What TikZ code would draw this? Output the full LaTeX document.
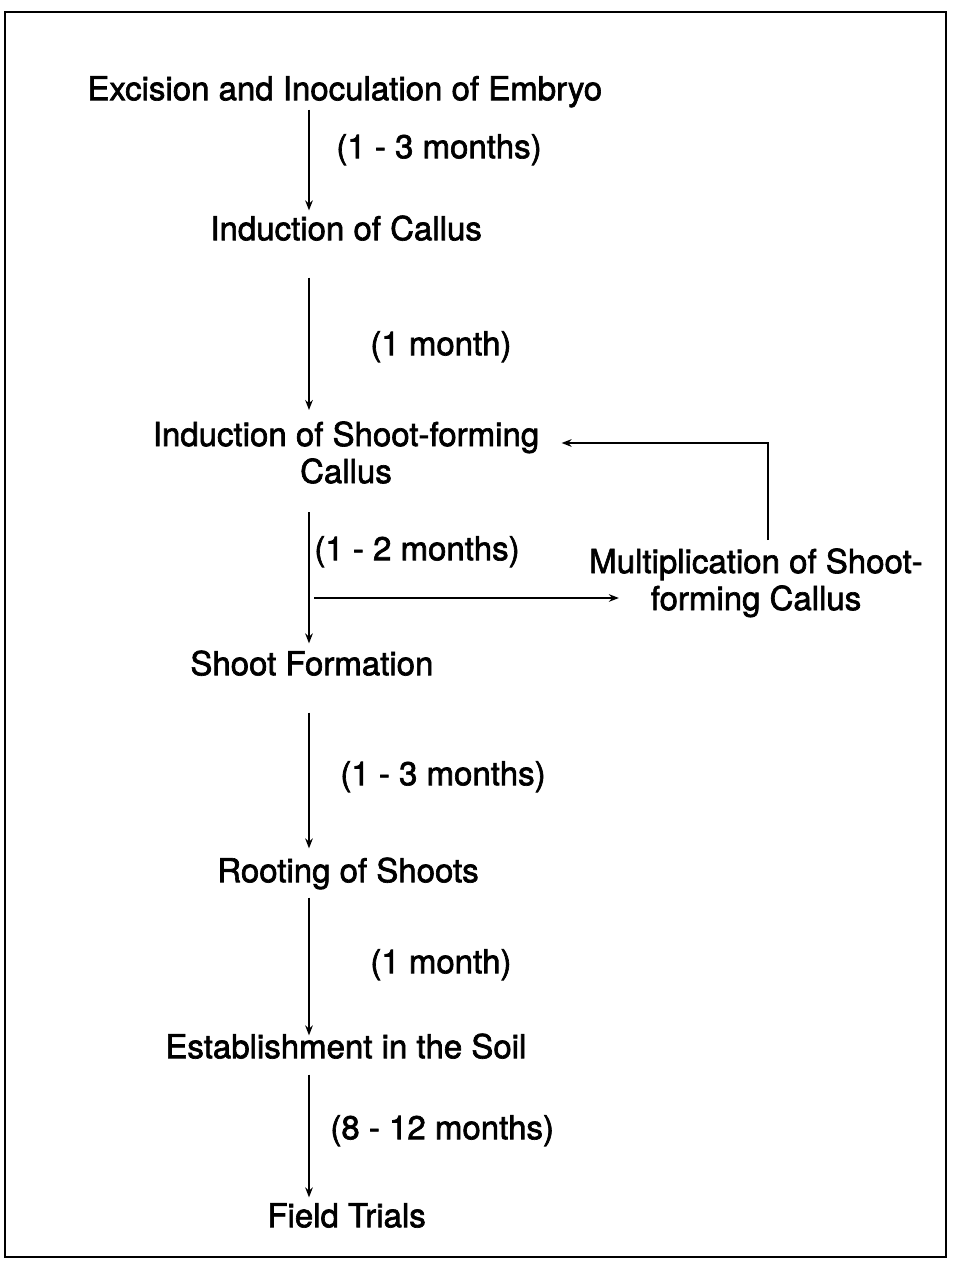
\documentclass[tikz,border=0pt]{standalone}
\usepackage{fontspec}
\newfontfamily\lblfont{TeX Gyre Heros}[FakeBold=2]
\usetikzlibrary{arrows.meta}
\begin{document}
\begin{tikzpicture}[x=0.5pt,y=-0.5pt,
  lbl/.style={inner sep=0pt, font=\lblfont\fontsize{16.5}{18.5}\selectfont, text height=0.72em, text depth=0.2em},
  lbl2/.style={inner sep=0pt, font=\lblfont\fontsize{16.5}{18.5}\selectfont, align=center},
  arr/.style={line width=1.1pt, -{Stealth[length=5pt,width=3.8pt]}}]
\useasboundingbox (0,0) rectangle (952,1262);
\draw[line width=1.1pt] (5,12) rectangle (946,1257);
\coordinate (ax) at (309,0);
\node[lbl, anchor=west] (n1) at (87,95) {Excision and Inoculation of Embryo};
\node[lbl, anchor=west] (n2) at (210,235) {Induction of Callus};
\node[lbl2, anchor=north] (n3) at (346,421) {Induction of Shoot-forming\\Callus};
\node[lbl2, anchor=north] (m) at (756,548) {Multiplication of Shoot-\\forming Callus};
\node[lbl, anchor=west] (n4) at (190,670) {Shoot Formation};
\node[lbl, anchor=west] (n5) at (217,877) {Rooting of Shoots};
\node[lbl, anchor=west] (n6) at (165,1053) {Establishment in the Soil};
\node[lbl, anchor=west] (n7) at (267,1222) {Field Trials};
\node[lbl, anchor=west] (t1) at (336,153) {(1 - 3 months)};
\node[lbl, anchor=west] (t2) at (370,350) {(1 month)};
\node[lbl, anchor=west] (t3) at (314,555) {(1 - 2 months)};
\node[lbl, anchor=west] (t4) at (340,780) {(1 - 3 months)};
\node[lbl, anchor=west] (t5) at (370,968) {(1 month)};
\node[lbl, anchor=west] (t6) at (330,1134) {(8 - 12 months)};
\draw[arr, shorten <=2.5pt, shorten >=7.5pt] (n1.south -| ax) -- (n2.north -| ax);
\draw[arr, shorten <=16.5pt, shorten >=5.5pt] (n2.south -| ax) -- (n3.north -| ax);
\draw[arr, shorten <=14pt, shorten >=8.5pt] (n3.south -| ax) -- (n4.north -| ax);
\draw[arr, shorten <=16.5pt, shorten >=9.5pt] (n4.south -| ax) -- (n5.north -| ax);
\draw[arr, shorten <=5.5pt, shorten >=4pt] (n5.south -| ax) -- (n6.north -| ax);
\draw[arr, shorten <=6pt, shorten >=7.5pt] (n6.south -| ax) -- (n7.north -| ax);
\coordinate (hs) at (314,598);
\coordinate (fb) at (768,443);
\draw[arr, shorten >=-15pt] (hs) -- (m.west |- hs);
\draw[arr, shorten <=4pt, shorten >=11pt] (m.north -| fb) -- (fb) -- (n3.east |- fb);
\end{tikzpicture}
\end{document}
